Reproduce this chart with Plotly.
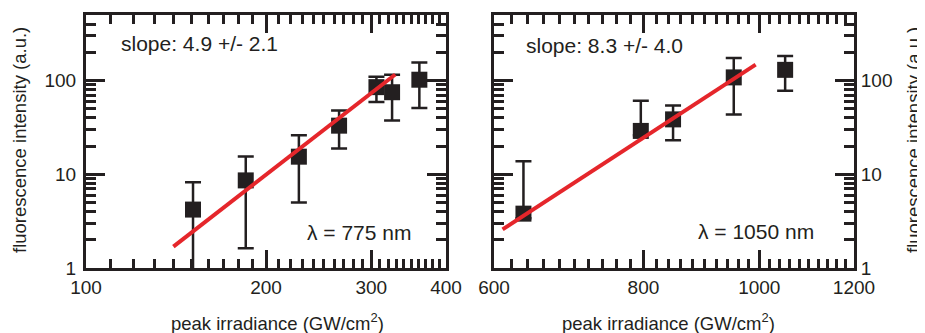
import plotly.graph_objects as go
import numpy as np

# ---- data: left panel (lambda = 775 nm) ----
x775 = [151, 185, 227, 265, 306, 325, 361]
y775 = [4.2, 8.6, 15.4, 33, 85, 75, 102]
y775_hi = [8.2, 15.5, 26, 48, 110, 115, 156]
y775_lo = [0.6, 1.62, 5.0, 18.8, 59, 37.5, 51]
fit775_x = [140, 329]
fit775_y = [1.69, 116]

# ---- data: right panel (lambda = 1050 nm) ----
x1050 = [635, 796, 847, 952, 1051]
y1050 = [3.8, 29, 38.5, 108, 130]
y1050_hi = [13.8, 61, 54, 174, 183]
y1050_lo = [3.4, 26, 23, 43.5, 78]
fit1050_x = [610, 993]
fit1050_y = [2.58, 148]

# ---- tick labels ----
x1_ticks = [100, 200, 300, 400]
x2_ticks = [600, 800, 1000, 1200]
y_ticks = [1, 10, 100]
x1_minor = [v for v in range(110, 400, 10) if v % 100]
x2_minor = [v for v in range(620, 1200, 20) if v % 200]
y_minor = [m * d for d in (1, 10, 100) for m in range(2, 10) if m * d <= 500]

INK = "#231f20"
RED = "#e5262b"
FONT = "Liberation Sans, Arial, sans-serif"

# the page body adds an 8px offset; lay out in reference pixels minus 8
OFF = 8
W, H = 925 - OFF, 333 - OFF


def px(x):
    return (x - OFF) / W


def py(y):
    return 1 - (y - OFF) / H


ydom = [py(268), py(15)]
x1dom = [px(86), px(446)]
x2dom = [px(494), px(854)]
x1rng = [np.log10(100), np.log10(400)]
x2rng = [np.log10(600), np.log10(1200)]
yrng = [0, np.log10(500)]

fig = go.Figure()


def err(y, hi, lo):
    return dict(type="data", symmetric=False,
                array=[h - v for h, v in zip(hi, y)],
                arrayminus=[v - l for v, l in zip(y, lo)],
                color=INK, thickness=2.5, width=8)


fig.add_trace(go.Scatter(x=x775, y=y775, mode="markers", xaxis="x", yaxis="y",
                         marker=dict(symbol="square", size=16, color=INK),
                         error_y=err(y775, y775_hi, y775_lo), showlegend=False))
fig.add_trace(go.Scatter(x=fit775_x, y=fit775_y, mode="lines", xaxis="x", yaxis="y",
                         line=dict(color=RED, width=4), showlegend=False))
fig.add_trace(go.Scatter(x=x1050, y=y1050, mode="markers", xaxis="x2", yaxis="y2",
                         marker=dict(symbol="square", size=16, color=INK),
                         error_y=err(y1050, y1050_hi, y1050_lo), showlegend=False))
fig.add_trace(go.Scatter(x=fit1050_x, y=fit1050_y, mode="lines", xaxis="x2", yaxis="y2",
                         line=dict(color=RED, width=4), showlegend=False))
# empty traces so the overlay (major-tick) axes are drawn
fig.add_trace(go.Scatter(x=[], y=[], xaxis="x3", yaxis="y3", showlegend=False, hoverinfo="skip"))
fig.add_trace(go.Scatter(x=[], y=[], xaxis="x4", yaxis="y4", showlegend=False, hoverinfo="skip"))

common = dict(type="log", ticks="inside", tickwidth=3, tickcolor=INK,
              showline=True, linewidth=3, linecolor=INK, mirror="ticks",
              showgrid=False, zeroline=False, automargin=False,
              tickfont=dict(family=FONT, size=19, color=INK), tickmode="array")


def labelled(domain, rng, major, minor, anchor, ticklen, side=None, standoff=None):
    vals = sorted(major + minor)
    d = dict(common, domain=domain, range=rng, anchor=anchor, ticklen=ticklen,
             tickvals=vals, ticktext=[str(v) if v in major else "" for v in vals])
    if side:
        d["side"] = side
    if standoff is not None:
        d["ticklabelstandoff"] = standoff
    return d


def majors(domain, rng, major, anchor, overlay, ticklen, side=None):
    d = dict(common, domain=domain, range=rng, anchor=anchor, ticklen=ticklen,
             tickvals=major, showticklabels=False, overlaying=overlay)
    if side:
        d["side"] = side
    return d


fig.update_layout(
    width=W, height=H, margin=dict(l=0, r=0, t=0, b=0, autoexpand=False),
    paper_bgcolor="white", plot_bgcolor="rgba(0,0,0,0)",
    xaxis=labelled(x1dom, x1rng, x1_ticks, x1_minor, "y", 9),
    xaxis2=labelled(x2dom, x2rng, x2_ticks, x2_minor, "y2", 9),
    yaxis=labelled(ydom, yrng, y_ticks, y_minor, "x", 10, "left", 3),
    yaxis2=labelled(ydom, yrng, y_ticks, y_minor, "x2", 10, "right"),
    xaxis3=majors(x1dom, x1rng, x1_ticks, "y3", "x", 18),
    yaxis3=majors(ydom, yrng, y_ticks, "x3", "y", 19, "left"),
    xaxis4=majors(x2dom, x2rng, x2_ticks, "y4", "x2", 18),
    yaxis4=majors(ydom, yrng, y_ticks, "x4", "y2", 19, "right"),
    font=dict(family=FONT, color=INK),
)

annots = [
    dict(text="slope: 4.9 +/- 2.1", x=119, y=44, xanchor="left", size=21),
    dict(text="slope: 8.3 +/- 4.0", x=524, y=46, xanchor="left", size=21),
    dict(text="\u03bb = 775 nm", x=413, y=232, xanchor="right", size=21),
    dict(text="\u03bb = 1050 nm", x=816, y=231, xanchor="right", size=21),
    dict(text="peak irradiance (GW/cm<sup>2</sup>)", x=277, y=322, xanchor="center", size=18.5),
    dict(text="peak irradiance (GW/cm<sup>2</sup>)", x=668, y=322, xanchor="center", size=18.5),
]
for a in annots:
    fig.add_annotation(text=a["text"], x=px(a["x"]), y=py(a["y"]), xref="paper", yref="paper",
                       xanchor=a["xanchor"], yanchor="middle", showarrow=False,
                       font=dict(family=FONT, size=a["size"], color=INK))
for xc in (20, 914):
    fig.add_annotation(text="fluorescence intensity (a.u.)", x=px(xc), y=py(140),
                       xref="paper", yref="paper", xanchor="center", yanchor="middle",
                       textangle=-90, showarrow=False,
                       font=dict(family=FONT, size=18.5, color=INK))

fig.write_html("out.html")
